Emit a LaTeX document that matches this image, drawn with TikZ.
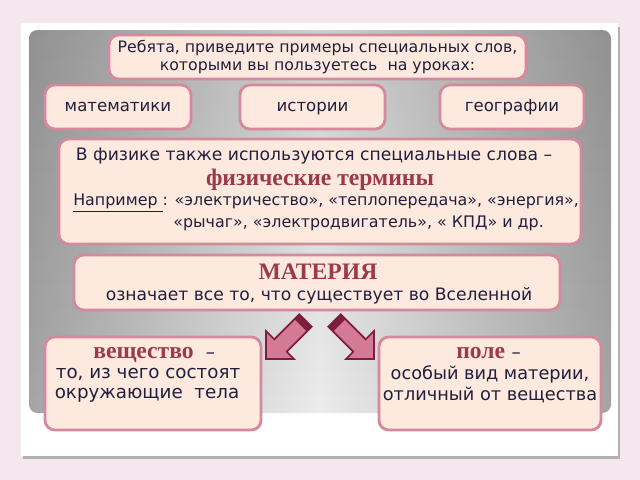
\documentclass[tikz,border=0pt]{standalone}
\usepackage{fontspec}
\usetikzlibrary{fadings}
\setmainfont{DejaVu Sans}
\newfontfamily\hdfont{Liberation Serif}
\definecolor{bgpink}{RGB}{244,231,238}
\definecolor{boxfill}{RGB}{253,233,221}
\definecolor{boxline}{RGB}{212,138,156}
\definecolor{txt}{RGB}{32,32,62}
\definecolor{hdred}{RGB}{156,58,74}
\definecolor{arfill}{RGB}{212,122,150}
\definecolor{ardark}{RGB}{125,30,62}
\definecolor{panelDark}{RGB}{165,165,165}
\definecolor{panelLight}{RGB}{236,236,236}
\begin{document}
\begin{tikzpicture}[x=0.025cm,y=-0.025cm,
  pbox/.style={draw=boxline, line width=2pt, fill=boxfill, rounded corners=7pt,
    text=txt, align=center, inner sep=0pt, text height=1.6ex, text depth=0.4ex},
  body/.style={text=txt, inner sep=0pt, font=\fontsize{12.2}{14}\selectfont},
  hd/.style={text=hdred, inner sep=0pt, font=\hdfont\bfseries\fontsize{16.8}{18}\selectfont},
  arrowbody/.style={fill=arfill, draw=ardark, line width=1.2pt, line join=miter},
  capface/.style={fill=ardark, draw=ardark, line width=0.6pt}]
\useasboundingbox (0,0) rectangle (640,480);
% background
\fill[bgpink] (0,0) rectangle (640,480);
\fill[black!30] (23,27) rectangle (620,459);
\fill[white] (21,23) rectangle (618,456);
\shade[left color=panelDark, right color=panelDark, middle color=panelLight, rounded corners=6pt]
  (29,30) rectangle (611,413);
\fill[black, opacity=0.12, path fading=south, rounded corners=6pt]
  (29,30) rectangle (611,413);

% top question
\node[pbox, minimum width=10.425cm, minimum height=1.1cm, text height=, text depth=,
  font=\fontsize{11.2}{13.2}\selectfont] (q) at (317.5,57)
  {Ребята, приведите примеры специальных слов,\\которыми вы пользуетесь\ \ на уроках:};
\node[pbox, minimum width=3.65cm, minimum height=1.1cm, font=\fontsize{11.8}{14}\selectfont] (m) at (118,107) {математики};
\node[pbox, minimum width=3.625cm, minimum height=1.1cm, font=\fontsize{11.8}{14}\selectfont] (h) at (312.5,107) {истории};
\node[pbox, minimum width=3.6cm, minimum height=1.1cm, font=\fontsize{11.8}{14}\selectfont] (g) at (512,107) {географии};

% physics box
\node[pbox, minimum width=13.05cm, minimum height=2.625cm] (ph) at (320,191.5) {};
\node[body] (ph1) at (314,156) {В физике также используются специальные слова –};
\node[hd] (ph2) at (320,180) {физические термины};
\node[body, anchor=west, font=\fontsize{11.3}{14}\selectfont] (ph3) at (73,203)
  {\underline{Например }: «электричество», «теплопередача», «энергия»,};
\node[body, anchor=west, font=\fontsize{11.3}{14}\selectfont] (ph4) at (173,223)
  {«рычаг», «электродвигатель», «\ КПД» и др.};

% matter box
\node[pbox, minimum width=12.15cm, minimum height=1.375cm] (mat) at (317,282.5) {};
\node[hd] (mat1) at (318,272) {МАТЕРИЯ};
\node[body] (mat2) at (319,296) {означает все то, что существует во Вселенной};

% bottom boxes
\node[pbox, minimum width=5.4cm, minimum height=2.325cm] (sub) at (153,383.5) {};
\node[hd, anchor=base west] (sub1) at (93,358) {вещество};
\node[body, anchor=base west, font=\fontsize{13}{15}\selectfont] (sub1b) at (sub1.base east) {\ \ –};
\node[body, font=\fontsize{13}{15}\selectfont] (sub2) at (148,374) {то, из чего состоят};
\node[body, font=\fontsize{13}{15}\selectfont] (sub3) at (147,395) {окружающие\ \ тела};

\node[pbox, minimum width=5.55cm, minimum height=2.325cm] (fld) at (490,383.5) {};
\node[hd, anchor=base west] (fld1) at (456,358) {поле};
\node[body, anchor=base west, font=\fontsize{13}{15}\selectfont] (fld1b) at (fld1.base east) {\ –};
\node[body, font=\fontsize{12.6}{15}\selectfont] (fld2) at (490,374) {особый вид материи,};
\node[body, font=\fontsize{12.6}{15}\selectfont] (fld3) at (490,395) {отличный от вещества};

% block arrows
\draw[arrowbody] (266,359) -- (266,331) -- (274.3,339.3) -- (299.3,314.3) -- (311.7,326.7)
  -- (286.7,351.7) -- (294,359) -- cycle;
\draw[capface] (299.3,314.3) -- (311.7,326.7) -- (307.2,331.2) -- (294.8,318.8) -- cycle;
\draw[arrowbody] (374,359) -- (374,331) -- (365.7,339.3) -- (340.7,314.3) -- (328.3,326.7)
  -- (353.3,351.7) -- (346,359) -- cycle;
\draw[capface] (340.7,314.3) -- (328.3,326.7) -- (332.8,331.2) -- (345.2,318.8) -- cycle;
\end{tikzpicture}
\end{document}
